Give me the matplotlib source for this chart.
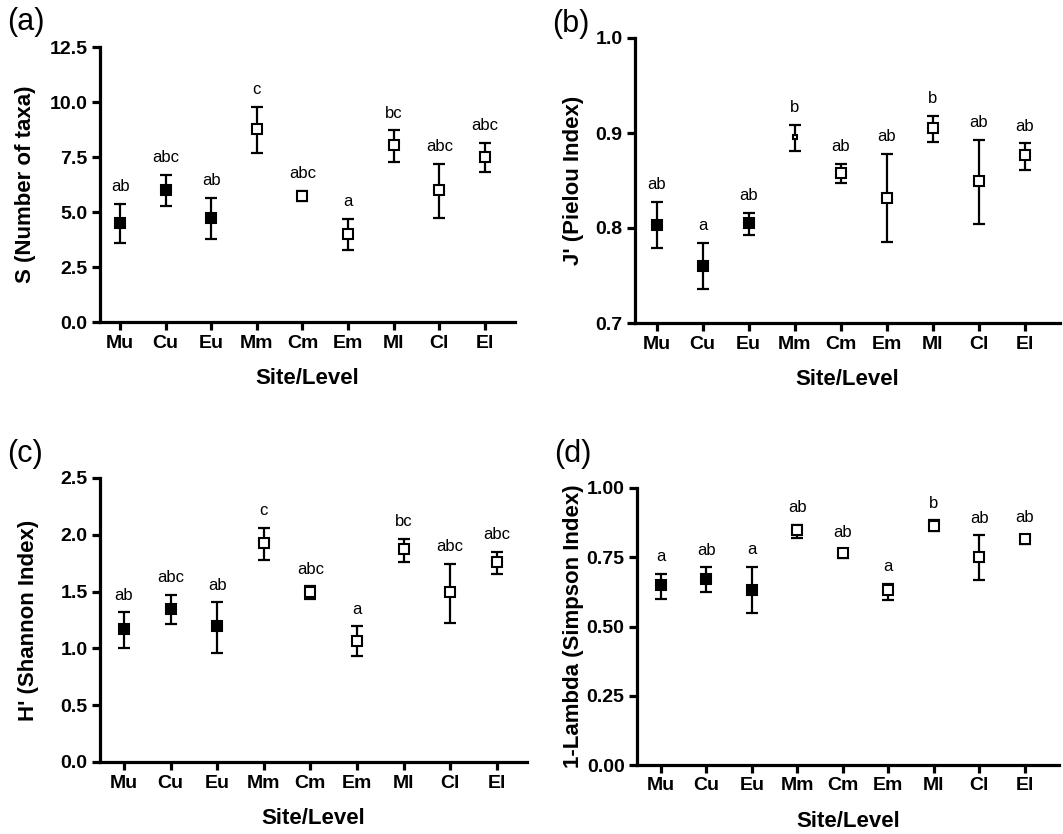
import matplotlib
matplotlib.use("Agg")
import matplotlib.pyplot as plt
from matplotlib.ticker import FormatStrFormatter, FixedLocator

# ---------------- data ----------------
sites = ["Mu", "Cu", "Eu", "Mm", "Cm", "Em", "Ml", "Cl", "El"]

# (a) S (Number of taxa)
S_mean = [4.51, 6.02, 4.73, 8.79, 5.73, 3.98, 8.03, 6.02, 7.50]
S_low = [3.58, 5.26, 3.76, 7.70, 5.48, 3.26, 7.27, 4.74, 6.82]
S_high = [5.35, 6.70, 5.65, 9.77, 5.95, 4.67, 8.71, 7.20, 8.14]
S_letters = ["ab", "abc", "ab", "c", "abc", "a", "bc", "abc", "abc"]

# (b) J' (Pielou Index)
J_mean = [0.803, 0.760, 0.8055, 0.896, 0.8576, 0.832, 0.905, 0.849, 0.877]
J_low = [0.779, 0.736, 0.7925, 0.8815, 0.847, 0.7848, 0.890, 0.8038, 0.861]
J_high = [0.827, 0.784, 0.816, 0.9086, 0.867, 0.8776, 0.918, 0.8928, 0.889]
J_letters = ["ab", "a", "ab", "b", "ab", "ab", "b", "ab", "ab"]

# (c) H' (Shannon Index)
H_mean = [1.171, 1.350, 1.194, 1.928, 1.494, 1.068, 1.875, 1.494, 1.761]
H_low = [1.003, 1.215, 0.960, 1.781, 1.438, 0.936, 1.758, 1.224, 1.655]
H_high = [1.317, 1.473, 1.405, 2.060, 1.546, 1.194, 1.966, 1.743, 1.852]
H_letters = ["ab", "abc", "ab", "c", "abc", "a", "bc", "abc", "abc"]

# (d) 1-Lambda (Simpson Index)
D_mean = [0.649, 0.671, 0.631, 0.850, 0.767, 0.631, 0.863, 0.751, 0.817]
D_low = [0.599, 0.625, 0.547, 0.820, 0.749, 0.597, 0.843, 0.667, 0.799]
D_high = [0.691, 0.713, 0.714, 0.868, 0.778, 0.653, 0.883, 0.829, 0.832]
D_letters = ["a", "ab", "a", "ab", "ab", "a", "b", "ab", "ab"]

# ---------------- style ----------------
plt.rcParams["font.family"] = ["Liberation Sans", "DejaVu Sans"]
W, H = 1063, 834
fig = plt.figure(figsize=(W / 100, H / 100), dpi=100)

def rect(l, r, t, b):
    return [l / W, (H - b) / H, (r - l) / W, (b - t) / H]

face = ["black"] * 3 + ["white"] * 6

panels = [
    dict(tag="(a)", rect=rect(100, 515, 47, 322), xlim=(-0.44, 8.66),
         ylim=(0, 12.5), ticks=[0, 2.5, 5.0, 7.5, 10.0, 12.5], fmt="%.1f",
         ylabel="S (Number of taxa)", mean=S_mean, low=S_low, high=S_high,
         letters=S_letters, ylab_x=36, tagpos=(7, 7), ms=[7] * 9),
    dict(tag="(b)", rect=rect(635, 1060, 38, 323), xlim=(-0.47, 8.76),
         ylim=(0.7, 1.0), ticks=[0.7, 0.8, 0.9, 1.0], fmt="%.1f",
         ylabel="J' (Pielou Index)", mean=J_mean, low=J_low, high=J_high,
         letters=J_letters, ylab_x=584, tagpos=(552, 9),
         ms=[7, 7, 7, 3.5, 7, 7, 7, 7, 7]),
    dict(tag="(c)", rect=rect(100, 527, 478, 762), xlim=(-0.515, 8.65),
         ylim=(0, 2.5), ticks=[0, 0.5, 1.0, 1.5, 2.0, 2.5], fmt="%.1f",
         ylabel="H' (Shannon Index)", mean=H_mean, low=H_low, high=H_high,
         letters=H_letters, ylab_x=39, tagpos=(7, 439), ms=[7] * 9),
    dict(tag="(d)", rect=rect(637, 1059, 488, 765), xlim=(-0.527, 8.75),
         ylim=(0, 1.0), ticks=[0, 0.25, 0.5, 0.75, 1.0], fmt="%.2f",
         ylabel="1-Lambda (Simpson Index)", mean=D_mean, low=D_low, high=D_high,
         letters=D_letters, ylab_x=584, tagpos=(554, 439), ms=[7] * 9),
]

for p in panels:
    ax = fig.add_axes(p["rect"])
    x = list(range(len(sites)))
    mean, low, high = p["mean"], p["low"], p["high"]
    yerr = [[m - l for m, l in zip(mean, low)], [h - m for m, h in zip(mean, high)]]
    ax.errorbar(x, mean, yerr=yerr, fmt="none", ecolor="black",
                elinewidth=1.6, capsize=4.6, capthick=1.6, zorder=2)
    for xi, m, fc, ms in zip(x, mean, face, p["ms"]):
        ax.plot([xi], [m], marker="s", ms=ms, mfc=fc, mec="black",
                mew=1.5, ls="none", zorder=3)
    for xi, h, t in zip(x, high, p["letters"]):
        ax.annotate(t, (xi, h), xytext=(0, 12.5), textcoords="offset points",
                    ha="center", va="center", fontsize=12, color="black")

    ax.set_xlim(*p["xlim"])
    ax.set_ylim(*p["ylim"])
    ax.set_xticks(x)
    ax.set_xticklabels(sites, fontweight="bold", fontsize=14)
    ax.yaxis.set_major_locator(FixedLocator(p["ticks"]))
    ax.yaxis.set_major_formatter(FormatStrFormatter(p["fmt"]))
    for lab in ax.get_yticklabels():
        lab.set_fontweight("bold")
        lab.set_fontsize(14)
    for s in ("top", "right"):
        ax.spines[s].set_visible(False)
    for s in ("left", "bottom"):
        ax.spines[s].set_linewidth(2.3)
    ax.tick_params(axis="both", direction="out", length=6, width=2.3,
                   pad=3, colors="black")
    ax.set_xlabel("Site/Level", fontweight="bold", fontsize=16)
    ax.set_ylabel(p["ylabel"], fontweight="bold", fontsize=16)
    l_px = p["rect"][0] * W
    w_px = p["rect"][2] * W
    ax.yaxis.set_label_coords((p["ylab_x"] - l_px) / w_px, 0.5)
    h_px = p["rect"][3] * H
    ax.xaxis.set_label_coords(0.5, -46 / h_px)
    ax.patch.set_alpha(0)

    tx, ty = p["tagpos"]
    fig.text(tx / W, 1 - ty / H, p["tag"], fontsize=22, ha="left", va="top")

fig.savefig("out.png", dpi=100, facecolor="white")
